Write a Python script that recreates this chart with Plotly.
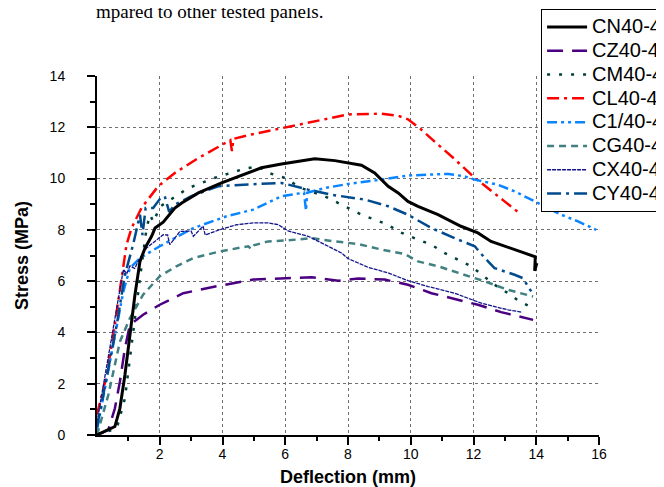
import plotly.graph_objects as go

# ---------------- data ----------------
cn_x = [0, 0.57, 0.73, 0.89, 1.05, 1.21, 1.37, 1.53, 1.74, 1.85, 2.11, 2.48, 2.7, 3.23, 3.97, 4.82,
        5.24, 5.88, 6.94, 7.58, 8.43, 8.85, 9.28, 9.6, 9.91, 10.23, 10.87, 11.6, 12.14, 12.56, 13.2,
        13.84, 13.97, 13.95, 14.02]
cn_y = [0, 0.33, 1.04, 2.34, 3.9, 5.47, 6.77, 7.29, 7.75, 8.07, 8.3, 8.85, 9.05, 9.44, 9.83, 10.22,
        10.42, 10.57, 10.77, 10.7, 10.52, 10.22, 9.7, 9.44, 9.11, 8.92, 8.59, 8.14, 7.88, 7.55, 7.29,
        7.03, 6.95, 6.4, 6.7]

cz_x = [0, 0.36, 0.57, 0.73, 0.89, 1.05, 1.47, 2.0, 2.75, 3.81, 4.98, 6.09, 6.84, 7.69, 8.32, 9.17,
        9.91, 10.66, 11.51, 12.14, 12.88, 13.9]
cz_y = [0, 0.2, 1.04, 2.08, 3.38, 4.3, 4.69, 5.08, 5.53, 5.8, 6.06, 6.12, 6.15, 6.02, 6.1, 6.06,
        5.86, 5.53, 5.27, 5.08, 4.79, 4.49]

cm_x = [0, 0.63, 0.89, 1.05, 1.21, 1.37, 1.47, 1.58, 1.69, 1.8, 2.0, 2.91, 3.76, 4.71, 5.14, 5.46,
        5.98, 6.5, 7.26, 7.68, 8.43, 9.28, 9.6, 10.23, 10.66, 11.07, 11.5, 11.93, 12.67, 13.1, 13.47, 13.9]
cm_y = [0, 0.26, 1.43, 3.12, 4.56, 6.12, 7.16, 8.07, 8.59, 8.3, 8.9, 9.63, 10.03, 10.39, 10.48, 10.22,
        10.03, 9.63, 9.31, 9.05, 8.59, 8.2, 7.94, 7.62, 7.42, 7.1, 6.84, 6.58, 5.86, 5.53, 5.21, 4.95]

cl_x = [0, 0.31, 0.52, 0.73, 0.94, 1.1, 1.42, 1.95, 2.48, 3.23, 3.97, 4.25, 4.3, 4.35, 4.92, 6.0,
        7.26, 8.0, 9.07, 9.6, 9.91, 10.3, 10.8, 11.35, 12.04, 12.57, 12.99, 13.52]
cl_y = [0.8, 2.34, 3.9, 5.73, 7.42, 8.07, 8.86, 9.7, 10.22, 10.8, 11.33, 11.5, 11.07, 11.55, 11.72, 12.0,
        12.33, 12.5, 12.53, 12.45, 12.31, 11.95, 11.4, 10.81, 10.03, 9.5, 9.11, 8.6]

c1_x = [0, 0.52, 0.84, 1.05, 1.37, 2.0, 3.07, 4.13, 4.98, 5.88, 6.6, 6.66, 6.7, 7.26, 8.0, 9.07,
        9.91, 10.66, 11.2, 11.7, 12.04, 12.78, 13.31, 13.84, 14.16, 14.8, 15.33, 15.91]
c1_y = [0.2, 3.64, 5.6, 6.51, 6.9, 7.36, 8.07, 8.53, 8.79, 9.31, 9.45, 8.75, 9.45, 9.63, 9.79, 9.96,
        10.12, 10.16, 10.18, 10.09, 9.96, 9.76, 9.5, 9.18, 8.98, 8.59, 8.33, 8.0]

cg_x = [0, 0.36, 0.73, 1.05, 1.47, 2.0, 2.53, 3.07, 3.92, 4.82, 4.92, 5.0, 5.46, 6.09, 6.84, 7.58,
        8.32, 9.07, 9.81, 10.23, 10.87, 11.7, 12.36, 13.1, 13.73, 13.9]
cg_y = [0, 1.56, 3.64, 4.56, 5.47, 6.19, 6.58, 6.9, 7.16, 7.36, 7.25, 7.4, 7.55, 7.59, 7.68, 7.55,
        7.45, 7.23, 7.06, 6.77, 6.58, 6.25, 5.99, 5.66, 5.47, 5.4]

cx_x = [0, 0.41, 0.73, 0.84, 0.95, 1.05, 1.2, 1.37, 1.58, 2.11, 2.25, 2.32, 2.64, 3.0, 3.07, 3.38,
        3.45, 3.92, 4.45, 4.98, 5.46, 5.78, 6.09, 6.73, 7.37, 7.79, 8.0, 8.64, 9.28, 9.91, 10.55,
        11.4, 12.25, 13.1, 13.55]
cx_y = [0.5, 3.38, 5.6, 6.45, 6.3, 6.59, 6.5, 6.9, 7.29, 7.81, 7.8, 7.42, 7.94, 7.95, 7.75, 8.14,
        7.8, 8.01, 8.2, 8.27, 8.27, 8.2, 7.96, 7.75, 7.36, 7.1, 6.88, 6.54, 6.32, 6.02, 5.79,
        5.53, 5.14, 4.88, 4.79]

cy_x = [0, 0.63, 0.89, 1.15, 1.37, 1.45, 1.55, 1.79, 2.0, 2.16, 2.3, 2.48, 3.01, 3.86, 4.82, 5.88,
        6.73, 7.47, 8.54, 9.28, 9.91, 10.66, 11.51, 12.04, 12.36, 12.67, 13.31, 13.57, 13.84]
cy_y = [0.3, 4.3, 6.25, 7.42, 8.59, 7.8, 8.85, 8.85, 9.2, 9.31, 8.7, 8.98, 9.31, 9.7, 9.77, 9.83,
        9.57, 9.37, 9.18, 8.92, 8.59, 8.07, 7.62, 7.36, 6.9, 6.51, 6.25, 6.12, 5.6]

names = ["CN40-4", "CZ40-4", "CM40-4", "CL40-4", "C1/40-4", "CG40-4", "CX40-4", "CY40-4"]

x_tick_vals = [2, 4, 6, 8, 10, 12, 14, 16]
x_tick_text = ["2", "4", "6", "8", "10", "12", "14", "16"]
x_minor_vals = [1, 3, 5, 7, 9, 11, 13, 15]
x_grid_vals = [2, 4, 6, 8, 10, 12, 14]
y_tick_vals = [0, 2, 4, 6, 8, 10, 12, 14]
y_tick_text = ["0", "2", "4", "6", "8", "10", "12", "14"]
y_minor_vals = [1, 3, 5, 7, 9, 11, 13]
y_grid_vals = [2, 4, 6, 8, 10, 12]

# ---------------- styles ----------------
styles = [
    dict(color="#000000", dash="solid", width=3),
    dict(color="#4B0082", dash="16px,9px", width=2.5),
    dict(color="#00403A", dash="3px,9px", width=2.5),
    dict(color="#FF0000", dash="12px,5px,3px,5px", width=2.5),
    dict(color="#0A85FF", dash="10px,4px,3px,4px,3px,4px", width=2.5),
    dict(color="#408080", dash="7px,5px", width=2.5),
    dict(color="#14148C", dash="4px,1px", width=1.3),
    dict(color="#004B8D", dash="14px,5px,3px,5px", width=2.5),
]

data = [(cn_x, cn_y), (cz_x, cz_y), (cm_x, cm_y), (cl_x, cl_y),
        (c1_x, c1_y), (cg_x, cg_y), (cx_x, cx_y), (cy_x, cy_y)]

FONT = "Liberation Sans, Arial, sans-serif"

fig = go.Figure()
for i, (name, (xs, ys), st) in enumerate(zip(names, data, styles)):
    label = "<span style='font-size:20px'>%s</span>" % name
    if i == 0:
        # black curve on the overlay axes (which carry ticks, labels and titles)
        fig.add_trace(go.Scatter(x=xs, y=ys, mode="lines", name=label, line=st,
                                 xaxis="x2", yaxis="y2"))
    else:
        fig.add_trace(go.Scatter(x=xs, y=ys, mode="lines", name=label, line=st))

tick_font = dict(family=FONT, size=14, color="black")
title_font = dict(family=FONT, size=18, color="black")

grid_style = dict(showgrid=True, gridcolor="#707070", gridwidth=1, griddash="dot")

fig.update_layout(
    width=664, height=487,
    margin=dict(l=89, r=73, t=68, b=60, autoexpand=False),
    paper_bgcolor="white", plot_bgcolor="white",
    showlegend=True,
    legend=dict(x=0.8846, y=1.1865, xanchor="left", yanchor="top",
                bgcolor="white", bordercolor="black", borderwidth=1,
                font=dict(family=FONT, size=16, color="black"),
                itemwidth=40, tracegroupgap=0),
    # main axes: dotted grid only
    xaxis=dict(range=[0, 16], tickmode="array", tickvals=x_grid_vals,
               showticklabels=False, ticks="", showline=False, zeroline=False, **grid_style),
    yaxis=dict(range=[0, 14], tickmode="array", tickvals=y_grid_vals,
               showticklabels=False, ticks="", showline=False, zeroline=False, **grid_style),
    # overlay axes: lines, ticks, labels, titles
    xaxis2=dict(overlaying="x", anchor="y2", side="bottom", range=[0, 16],
                tickvals=x_tick_vals, ticktext=x_tick_text,
                ticks="outside", ticklen=8, tickwidth=1.5, tickcolor="black",
                showline=True, linecolor="black", linewidth=2,
                showgrid=False, zeroline=False,
                minor=dict(tickvals=x_minor_vals, ticks="outside", ticklen=4,
                           tickwidth=1.5, tickcolor="black", showgrid=False),
                tickfont=tick_font, ticklabelstandoff=-3,
                title=dict(text="<b>Deflection (mm)</b>", font=title_font, standoff=10)),
    yaxis2=dict(overlaying="y", anchor="x2", side="left", range=[0, 14],
                tickvals=y_tick_vals, ticktext=y_tick_text,
                ticks="outside", ticklen=8, tickwidth=1.5, tickcolor="black",
                showline=True, linecolor="black", linewidth=2,
                showgrid=False, zeroline=False,
                minor=dict(tickvals=y_minor_vals, ticks="outside", ticklen=5,
                           tickwidth=1.5, tickcolor="black", showgrid=False),
                tickfont=tick_font, ticklabelstandoff=19,
                title=dict(text="<b>Stress (MPa)</b>", font=title_font, standoff=16)),
)

fig.add_annotation(text="mpared to other tested panels.", xref="paper", yref="paper",
                   x=-0.0055, y=1.146, xanchor="left", yanchor="bottom", showarrow=False,
                   font=dict(family="Liberation Serif, Times New Roman, serif", size=19, color="black"))

fig.write_html("out.html")
